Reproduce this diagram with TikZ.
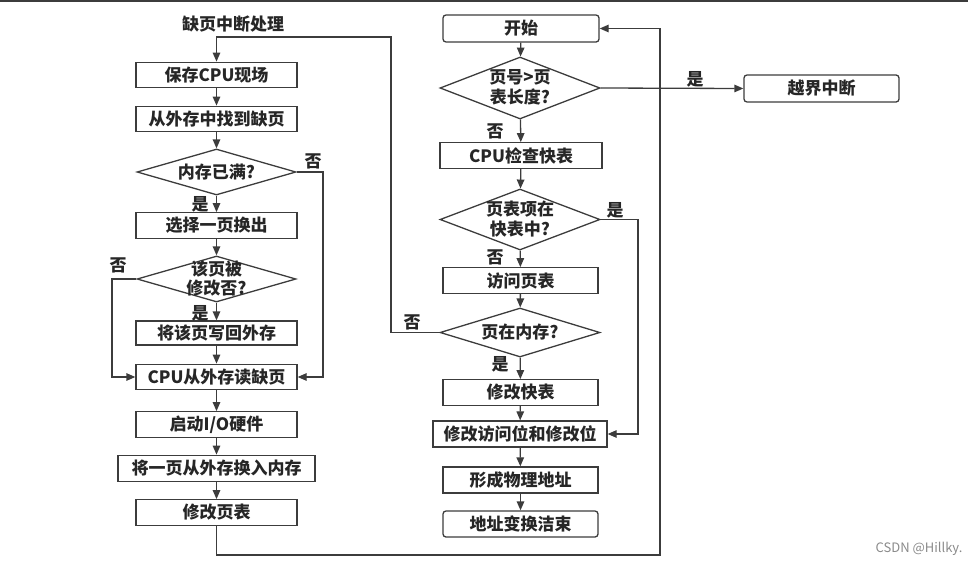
\documentclass[tikz,border=0pt]{standalone}
\usepackage{fontspec}
\setmainfont{Noto Sans CJK SC}
\usetikzlibrary{arrows.meta,shapes.geometric}
\definecolor{ln}{HTML}{3C3C3C}
\definecolor{wm}{HTML}{8A8A8A}
\newcommand\dtx[1]{\raisebox{-0.33em}[0pt][0pt]{\makebox[0pt]{\renewcommand\arraystretch{0.9}\begin{tabular}{@{}c@{}}#1\end{tabular}}}}
\tikzset{
  base/.style={font=\fontsize{17}{19}\selectfont\bfseries, text=black!85},
  box/.style={base, draw=ln, line width=1.3pt, rectangle, inner sep=0pt, minimum height=25.5pt, minimum width=161pt},
  rbox/.style={box, rounded corners=3pt},
  dia/.style={base, draw=ln, line width=1.3pt, diamond, inner sep=0pt, minimum width=159pt},
  arr/.style={draw=ln, line width=1.3pt, -{Triangle[length=9pt,width=7.5pt]}},
  ln/.style={draw=ln, line width=1.3pt},
  lab/.style={base, inner sep=0pt}
}
\begin{document}
\begin{tikzpicture}[x=1pt,y=-1pt]
\useasboundingbox (0,0) rectangle (968,565);
\draw[ln, line width=1.6pt] (0,0.8) -- (968,0.8);

% left column
\node[lab] (title) at (233,24) {缺页中断处理};
\node[box] (b1) at (216.5,75) {保存CPU现场};
\node[box] (b2) at (216.5,119) {从外存中找到缺页};
\node[dia, minimum height=46pt] (d1) at (216.5,172) {\dtx{内存已满?}};
\node[box] (b3) at (216.5,225.5) {选择一页换出};
\node[dia, minimum height=46pt] (d2) at (216.5,279) {\dtx{该页被\\修改否?}};
\node[box, minimum height=24pt] (b4) at (216.5,333) {将该页写回外存};
\node[box] (b5) at (216.5,377) {CPU从外存读缺页};
\node[box] (b6) at (216.5,424.5) {启动I/O硬件};
\node[box, minimum width=197pt, minimum height=26.5pt] (b7) at (216.5,468.5) {将一页从外存换入内存};
\node[box] (b8) at (216.5,512.5) {修改页表};

% right column
\node[rbox, minimum width=156pt, minimum height=27pt] (s) at (521,28.5) {开始};
\node[dia, minimum width=160pt, minimum height=62pt] (r1) at (520,88) {\dtx{页号>页\\表长度?}};
\node[rbox, minimum width=155pt, minimum height=27pt] (x) at (821.5,88.5) {越界中断};
\node[box, minimum width=162pt] (c1) at (521,155.5) {CPU检查快表};
\node[dia, minimum width=160pt, minimum height=61pt] (r2) at (520,219.5) {\dtx{页表项在\\快表中?}};
\node[box, minimum width=155pt] (c2) at (520.5,280.5) {访问页表};
\node[dia, minimum width=160pt, minimum height=49pt] (r3) at (520,332.5) {\dtx{页在内存?}};
\node[box, minimum width=155pt] (c3) at (520.5,392.5) {修改快表};
\node[box, minimum width=174pt, minimum height=26pt] (c4) at (520,434) {修改访问位和修改位};
\node[box, minimum width=155pt, minimum height=26pt] (c5) at (520.5,480) {形成物理地址};
\node[rbox, minimum width=155pt, minimum height=26pt] (e) at (520.5,524) {地址变换洁束};

% bend points
\coordinate (k1) at (391,37);
\coordinate (k2) at (323,172);
\coordinate (k3) at (112,279);
\coordinate (k4) at (660,555);
\coordinate (k5) at (638,219.5);

% left connectors
\draw[arr] (r3.west) -| (k1) -| (b1.north);
\draw[arr] (b1) -- (b2);
\draw[arr] (b2) -- (d1);
\draw[arr] (d1) -- (b3);
\draw[arr] (d1.east) -- (k2) |- (b5.east);
\draw[arr] (b3) -- (d2);
\draw[arr] (d2) -- (b4);
\draw[arr] (d2.west) -- (k3) |- (b5.west);
\draw[arr] (b4) -- (b5);
\draw[arr] (b5) -- (b6);
\draw[arr] (b6) -- (b7);
\draw[arr] (b7) -- (b8);
\draw[arr] (b8.south) |- (k4) |- (s.east);

% right connectors
\draw[arr] (s) -- (r1);
\draw[arr] (r1.east) -- (x.west);
\draw[arr] (r1) -- (c1);
\draw[arr] (c1) -- (r2);
\draw[arr] (r2.east) -- (k5) |- (c4.east);
\draw[arr] (r2) -- (c2);
\draw[arr] (c2) -- (r3);
\draw[arr] (r3) -- (c3);
\draw[arr] (c3) -- (c4);
\draw[arr] (c4) -- (c5);
\draw[arr] (c5) -- (e);

% branch labels
\node[lab] (l1) at (313,161) {否};
\node[lab] (l2) at (200,204) {是};
\node[lab] (l3) at (118,265) {否};
\node[lab] (l4) at (200,313) {是};
\node[lab] (l5) at (412,322) {否};
\node[lab] (l6) at (695,79) {是};
\node[lab] (l7) at (495,131) {否};
\node[lab] (l8) at (615,210) {是};
\node[lab] (l9) at (495,257) {否};
\node[lab] (l10) at (500,364) {是};

\node[font=\fontsize{13}{15}\selectfont, text=wm, inner sep=0pt] (csdn) at (919,549) {CSDN @Hillky.};
\end{tikzpicture}
\end{document}
